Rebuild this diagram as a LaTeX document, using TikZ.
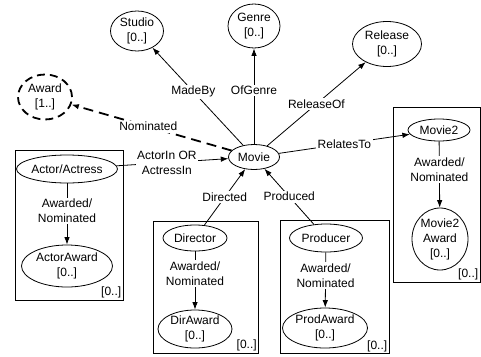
\documentclass[tikz,border=0pt]{standalone}
\usepackage{fontspec}
\setmainfont{Liberation Sans}
\usetikzlibrary{shapes.geometric,arrows.meta}
\begin{document}
\begin{tikzpicture}[x=1pt,y=-1pt, font=\fontsize{12}{15}\selectfont,
 ell/.style={draw, ellipse, inner sep=0pt, align=center, line width=0.8pt},
 box/.style={draw, line width=0.8pt, inner sep=0pt},
 lbl/.style={fill=white, inner sep=1.5pt, align=center},
 cnt/.style={anchor=south east, inner sep=2pt},
 arr/.style={-{Latex[length=7.5pt,width=5.5pt]}, line width=0.8pt}]
\useasboundingbox (0,0) rectangle (481,356);
% boxes
\node[box, minimum width=108, minimum height=150] (actorbox) at (69,225) {};
\node[box, minimum width=105, minimum height=132] (dirbox) at (206,287) {};
\node[box, minimum width=109, minimum height=133] (prodbox) at (334.5,287) {};
\node[box, minimum width=87, minimum height=175] (m2box) at (436.5,194.5) {};
\node[cnt] (actorcnt) at (actorbox.south east) {[0..]};
\node[cnt] (dircnt) at (dirbox.south east) {[0..]};
\node[cnt] (prodcnt) at (prodbox.south east) {[0..]};
\node[cnt] (m2cnt) at (m2box.south east) {[0..]};
% ellipses
\node[ell, minimum width=53, minimum height=40] (studio) at (137,31) {Studio\\{[0..]}};
\node[ell, minimum width=52, minimum height=44] (genre) at (254,26) {Genre\\{[0..]}};
\node[ell, minimum width=69, minimum height=45] (release) at (387,44) {Release\\{[0..]}};
\node[ell, minimum width=54, minimum height=45, dashed, dash pattern=on 8pt off 5pt, line width=1.8pt] (award) at (45,97) {Award\\{[1..]}};
\node[ell, minimum width=51, minimum height=25] (movie) at (254,157) {Movie};
\node[ell, minimum width=101, minimum height=28] (actor) at (67,169) {Actor/Actress};
\node[ell, minimum width=91, minimum height=42] (actoraward) at (67,266) {ActorAward\\{[0..]}};
\node[ell, minimum width=64, minimum height=26] (director) at (195,238) {Director};
\node[ell, minimum width=74, minimum height=38] (diraward) at (195,329) {DirAward\\{[0..]}};
\node[ell, minimum width=73, minimum height=28] (producer) at (326,238) {Producer};
\node[ell, minimum width=85, minimum height=40] (prodaward) at (325,328) {ProdAward\\{[0..]}};
\node[ell, minimum width=62, minimum height=22] (movie2) at (439,130) {Movie2};
\node[ell, minimum width=56, minimum height=62] (m2award) at (440,239) {Movie2\\Award\\{[0..]}};
% connectors from movie
\draw[arr] (movie) -- node[lbl, pos=0.55] {MadeBy} (studio);
\draw[arr] (movie) -- node[lbl, pos=0.56] {OfGenre} (genre);
\draw[arr] (movie) -- node[lbl, pos=0.5] {ReleaseOf} (release);
\draw[arr] (movie) -- node[lbl, pos=0.5] {RelatesTo} (movie2);
\draw[arr, dashed, dash pattern=on 10pt off 6pt, line width=1.8pt] (movie) -- node[lbl, pos=0.52] {Nominated} (award);
\draw[arr] (actor) -- node[lbl, pos=0.45] {ActorIn OR\\ActressIn} (movie);
\draw[arr] (director) -- node[lbl, pos=0.5] {Directed} (movie);
\draw[arr] (producer) -- node[lbl, pos=0.5] {Produced} (movie);
% inside boxes
\draw[arr] (actor) -- node[lbl, pos=0.45] {Awarded/\\Nominated} (actoraward);
\draw[arr] (director) -- node[lbl, pos=0.38] {Awarded/\\Nominated} (diraward);
\draw[arr] (producer) -- node[lbl, pos=0.42] {Awarded/\\Nominated} (prodaward);
\draw[arr] (movie2) -- node[lbl, pos=0.43] {Awarded/\\Nominated} (m2award);
\end{tikzpicture}
\end{document}
